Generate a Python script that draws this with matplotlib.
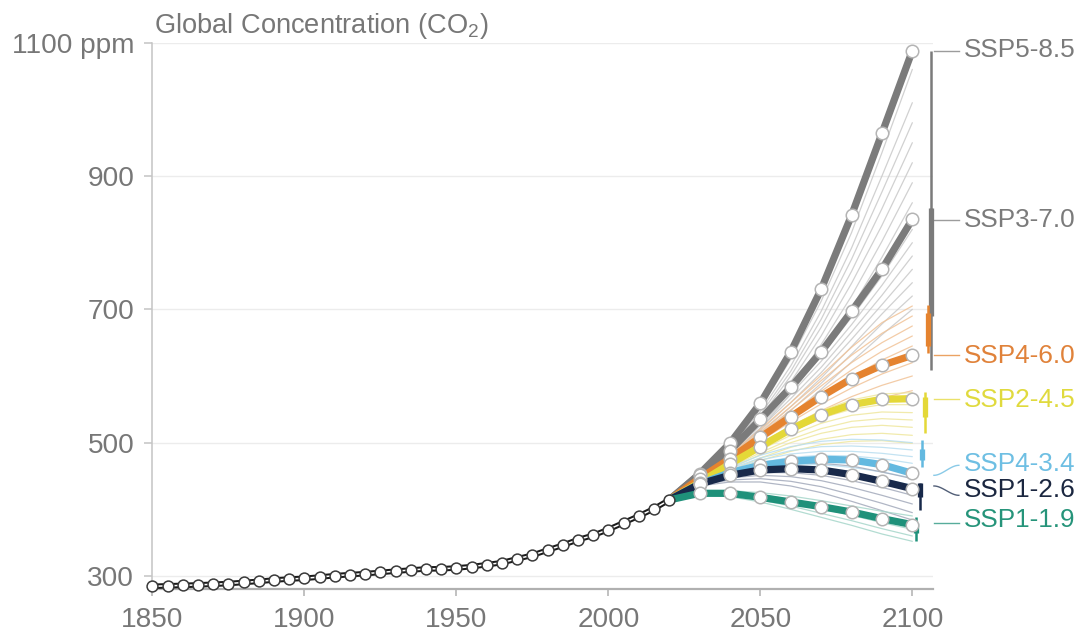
import numpy as np
import matplotlib
matplotlib.use("Agg")
import matplotlib.pyplot as plt

plt.rcParams["font.family"] = ["Liberation Sans", "DejaVu Sans"]
plt.rcParams["mathtext.fontset"] = "custom"
plt.rcParams["mathtext.rm"] = "Liberation Sans"
plt.rcParams["mathtext.default"] = "regular"

# ---------------- data ----------------
hist_years = list(range(1850, 2021, 5))
hist_co2 = [284.5, 285.2, 285.9, 286.6, 287.6, 288.6, 290.3, 291.9, 293.9, 295.4,
            296.5, 298.4, 300.4, 302.0, 303.5, 305.3, 307.2, 308.9, 310.6, 310.8,
            312.0, 314.0, 316.9, 320.0, 325.7, 331.1, 338.8, 346.1, 354.4, 360.9,
            369.7, 379.8, 389.9, 400.8, 414.0]

proj_years = [2020, 2030, 2040, 2050, 2060, 2070, 2080, 2090, 2100]

scenarios = ["SSP5-8.5", "SSP3-7.0", "SSP4-6.0", "SSP2-4.5", "SSP4-3.4", "SSP1-2.6", "SSP1-1.9"]

ssp585 = [414, 453, 499, 559, 636, 730, 841, 964, 1088]
ssp370 = [414, 452, 488, 535, 583, 636, 697, 760, 835]
ssp460 = [414, 446, 476, 508, 539, 569, 596, 616, 631]
ssp245 = [414, 440, 468, 494, 520, 542, 557, 565, 566]
ssp434 = [414, 438, 455, 466, 472, 475, 474, 467, 454]
ssp126 = [414, 438, 451, 459, 461, 459, 452, 442, 431]
ssp119 = [414, 424, 424, 418, 411, 404, 396, 386, 377]
central = [ssp585, ssp370, ssp460, ssp245, ssp434, ssp126, ssp119]

# emulator ensemble members (same years as proj_years)
members_585 = [
    [414, 450, 494, 552, 625, 712, 815, 935, 1060],
    [414, 449, 492, 547, 615, 697, 792, 900, 1010],
    [414, 448, 489, 542, 607, 685, 775, 876, 980],
    [414, 447, 487, 538, 600, 673, 757, 851, 950],
    [414, 446, 484, 533, 591, 660, 739, 826, 920],
    [414, 445, 481, 527, 582, 647, 720, 802, 890],
    [414, 444, 478, 521, 573, 634, 702, 778, 860],
]
members_370 = [
    [414, 450, 486, 530, 580, 630, 688, 750, 820],
    [414, 449, 484, 526, 573, 622, 677, 736, 800],
    [414, 448, 482, 522, 566, 613, 666, 721, 780],
    [414, 447, 480, 518, 560, 605, 655, 707, 760],
    [414, 446, 478, 514, 554, 597, 644, 693, 740],
    [414, 445, 476, 510, 548, 589, 633, 678, 720],
    [414, 444, 474, 506, 541, 580, 621, 662, 700],
]
members_460 = [
    [414, 448, 482, 520, 560, 601, 643, 680, 705],
    [414, 447, 480, 516, 554, 593, 631, 664, 690],
    [414, 447, 479, 513, 549, 585, 620, 650, 675],
    [414, 446, 477, 510, 543, 577, 609, 637, 660],
    [414, 446, 476, 507, 538, 569, 598, 624, 645],
    [414, 445, 474, 503, 531, 558, 582, 603, 620],
    [414, 444, 472, 499, 524, 548, 569, 586, 600],
    [414, 443, 469, 494, 516, 536, 553, 567, 578],
]
members_245 = [
    [414, 442, 471, 499, 525, 548, 564, 573, 575],
    [414, 440, 467, 493, 517, 537, 550, 557, 557],
    [414, 439, 465, 489, 511, 529, 541, 546, 545],
    [414, 438, 463, 485, 505, 521, 532, 536, 534],
    [414, 438, 461, 482, 500, 514, 523, 526, 523],
    [414, 437, 458, 477, 493, 505, 512, 514, 511],
    [414, 436, 456, 473, 487, 497, 502, 503, 499],
]
members_434 = [
    [414, 441, 463, 481, 494, 502, 505, 504, 500],
    [414, 440, 461, 477, 488, 494, 495, 493, 489],
    [414, 439, 459, 474, 483, 487, 487, 484, 479],
    [414, 438, 457, 470, 478, 481, 480, 476, 469],
    [414, 438, 455, 467, 473, 474, 472, 466, 458],
    [414, 437, 453, 463, 467, 467, 463, 456, 447],
    [414, 436, 451, 459, 462, 460, 455, 446, 436],
]
members_126 = [
    [414, 440, 455, 465, 469, 469, 465, 456, 446],
    [414, 439, 452, 460, 462, 460, 454, 445, 434],
    [414, 438, 449, 455, 455, 451, 443, 433, 421],
    [414, 437, 447, 451, 449, 443, 433, 421, 408],
    [414, 436, 444, 446, 442, 434, 422, 409, 395],
    [414, 435, 441, 441, 435, 425, 412, 398, 384],
]
members_119 = [
    [414, 426, 428, 425, 420, 413, 405, 397, 390],
    [414, 425, 426, 422, 415, 407, 398, 389, 381],
    [414, 424, 424, 418, 410, 401, 391, 380, 370],
    [414, 423, 421, 414, 405, 394, 383, 371, 360],
    [414, 422, 419, 411, 400, 388, 376, 363, 352],
]
members = [members_585, members_370, members_460, members_245, members_434, members_126, members_119]

# 2100 ranges (thin = very likely, thick = likely)
range_thin = [(700, 1087), (609, 852), (634, 706), (514, 576), (464, 504), (399, 439), (352, 389)]
range_thick = [None, (690, 852), (645, 695), (539, 569), (474, 491), (419, 439), (365, 380)]

# ---------------- styling / layout ----------------
main_colors = ["#7b7b7b", "#7b7b7b", "#e5832f", "#e4d838", "#63b9e0", "#18294a", "#1f917a"]
thin_colors = ["#c9c9c9", "#c9c9c9", "#f1c398", "#efe79e", "#b9def0", "#a3aabb", "#a6d6ca"]
label_colors = ["#7b7b7b", "#7b7b7b", "#e0823a", "#e0da3e", "#6ebfe3", "#1b2740", "#26947a"]
bar_x = [2106.2, 2106.2, 2105.3, 2104.2, 2103.3, 2102.4, 2101.1]
label_base = [1079.0, 824.0, 619.1, 553.9, 458.0, 419.0, 373.1]
conn_from = [1088, 834, 632, 566, 451, 435, 380]
conn_to = [1088, 834, 632, 566, 466, 421, 380]
conn_x0, conn_x1, label_x = 2107.1, 2115.3, 2117.0

TXT = "#777777"

fig = plt.figure(figsize=(10.81, 6.36), dpi=100)
ax = fig.add_axes([152.3 / 1081, 1 - 589.3 / 636, (932.7 - 152.3) / 1081, (589.3 - 42.7) / 636])
ax.set_xlim(1850, 2106.7)
ax.set_ylim(280, 1100)

# grid
for g in [300, 500, 700, 900, 1100]:
    ax.axhline(g, color="#ececec", lw=1.0, zorder=0)

# ensemble members
for mem, c in zip(members, thin_colors):
    for m in mem:
        ax.plot(proj_years, m, color=c, lw=0.9, alpha=0.85, zorder=2, solid_capstyle="round")

# central pathways
for vals, c in zip(central, main_colors):
    ax.plot(proj_years, vals, color=c, lw=5.2, zorder=3, solid_capstyle="round", solid_joinstyle="round")
    ax.plot(proj_years[1:], vals[1:], ls="none", marker="o", ms=9, mfc="white",
            mec="#b4b4b4", mew=1.1, zorder=4)

# historical record
ax.plot(hist_years, hist_co2, color="#1a1a1a", lw=4.0, zorder=5, solid_capstyle="butt", clip_on=False)
ax.plot(hist_years, hist_co2, color="white", lw=1.1, zorder=5.1, clip_on=False)
ax.plot(hist_years, hist_co2, ls="none", marker="o", ms=7.8, mfc="white", mec="#3a3a3a",
        mew=1.1, zorder=6, clip_on=False)

# 2100 range bars, connectors and labels
t = np.linspace(0, 1, 40)
s = 3 * t**2 - 2 * t**3
for i, name in enumerate(scenarios):
    lo, hi = range_thin[i]
    ax.plot([bar_x[i], bar_x[i]], [lo, hi], color=main_colors[i], lw=1.8,
            solid_capstyle="butt", clip_on=False, zorder=3)
    if range_thick[i] is not None:
        lo, hi = range_thick[i]
        ax.plot([bar_x[i], bar_x[i]], [lo, hi], color=main_colors[i], lw=3.8,
                solid_capstyle="butt", clip_on=False, zorder=3)
    cx = conn_x0 + (conn_x1 - conn_x0) * t
    cy = conn_from[i] + (conn_to[i] - conn_from[i]) * s
    ax.plot(cx, cy, color=main_colors[i], lw=1.0, alpha=0.75, clip_on=False, zorder=3)
    ax.text(label_x, label_base[i], name, color=label_colors[i], fontsize=18.8,
            ha="left", va="baseline", clip_on=False)

# axes cosmetics
for side in ["top", "right"]:
    ax.spines[side].set_visible(False)
ax.spines["left"].set_color("#c4c4c4")
ax.spines["left"].set_linewidth(1.1)
ax.spines["bottom"].set_color("#b0b0b0")
ax.spines["bottom"].set_linewidth(1.6)

ax.set_xticks([1850, 1900, 1950, 2000, 2050, 2100])
ax.set_yticks([300, 500, 700, 900, 1100])
ax.set_yticklabels(["300", "500", "700", "900", "1100 ppm"])
ax.tick_params(axis="x", colors="#b0b0b0", labelcolor=TXT, labelsize=20.2,
               length=5, width=1.1, pad=8)
ax.tick_params(axis="y", colors="#c4c4c4", labelcolor=TXT, labelsize=20.2,
               length=6, width=1.1, pad=7)

fig.text(154 / 1081, 1 - 33.3 / 636, "Global Concentration (CO$_2$)", color=TXT,
         fontsize=19.6, ha="left", va="baseline")

fig.savefig("out.png", dpi=100)
